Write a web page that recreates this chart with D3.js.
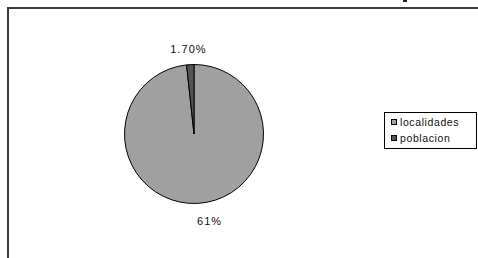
<!DOCTYPE html>
<html>
<head>
<meta charset="utf-8">
<script src="https://cdn.jsdelivr.net/npm/d3@7"></script>
<style>
  body { margin: 0; background: #fff; }
  svg { display: block; }
  text { font-family: "Liberation Sans", Arial, sans-serif; fill: #111; }
</style>
</head>
<body>
<svg id="chart" width="478" height="258"></svg>
<script>
"use strict"

// data
let categories = ["localidades", "poblacion"]
let shares = [98.3, 1.7]
let sliceLabels = ["61%", "1.70%"]
let colors = ["#a0a0a0", "#545454"]

let svg = d3.select("#chart")

// chart frame (only top & left edges visible)
svg.append("path")
    .attr("d", "M8,258 V8 H478")
    .attr("fill", "none")
    .attr("stroke", "#3a3a3a")
    .attr("stroke-width", 2)

svg.append("rect")
    .attr("x", 403).attr("y", 0)
    .attr("width", 4).attr("height", 2)
    .attr("fill", "#222")

let cx = 194, cy = 134, r = 69.5

let pie = d3.pie().sort(null).value(function(d) { return d })
let arcs = pie(shares)
let arc = d3.arc().innerRadius(0).outerRadius(r)

let g = svg.append("g").attr("transform", "translate(" + cx + "," + cy + ")")

g.selectAll("path.slice")
    .data(arcs)
    .enter().append("path")
    .attr("class", "slice")
    .attr("d", arc)
    .attr("fill", function(d, i) { return colors[i] })
    .attr("stroke", "#000")
    .attr("stroke-width", 1)

// labels outside the pie, pushed beyond the rim
let labelArc = d3.arc().innerRadius(r + 16).outerRadius(r + 16)
g.selectAll("text.lbl")
    .data(arcs)
    .enter().append("text")
    .attr("class", "lbl")
    .attr("x", function(d, i) {
        let p = labelArc.centroid(d)
        return i == 0 ? p[0] + 11 : p[0] - 1
    })
    .attr("y", function(d, i) {
        let p = labelArc.centroid(d)
        return i == 0 ? p[1] + 6 : p[1] + 4
    })
    .attr("text-anchor", "middle")
    .attr("font-size", 11)
    .attr("letter-spacing", 1)
    .text(function(d, i) { return sliceLabels[i] })

// legend
let legend = svg.append("g").attr("transform", "translate(384,112)")
legend.append("rect")
    .attr("x", 0.5).attr("y", 0.5)
    .attr("width", 92).attr("height", 36)
    .attr("fill", "#fff")
    .attr("stroke", "#000")
    .attr("stroke-width", 1)

let rowY = d3.scalePoint().domain(categories).range([10, 26])

let items = legend.selectAll("g.item")
    .data(categories)
    .enter().append("g")
    .attr("class", "item")
    .attr("transform", function(d) { return "translate(0," + rowY(d) + ")" })

items.append("rect")
    .attr("x", 7.5).attr("y", -2.5)
    .attr("width", 5).attr("height", 5)
    .attr("fill", function(d, i) { return colors[i] })
    .attr("stroke", "#000")
    .attr("stroke-width", 1)

items.append("text")
    .attr("x", 16).attr("y", 4)
    .attr("font-size", 10.5)
    .attr("letter-spacing", 0.6)
    .text(function(d) { return d })
</script>
</body>
</html>
